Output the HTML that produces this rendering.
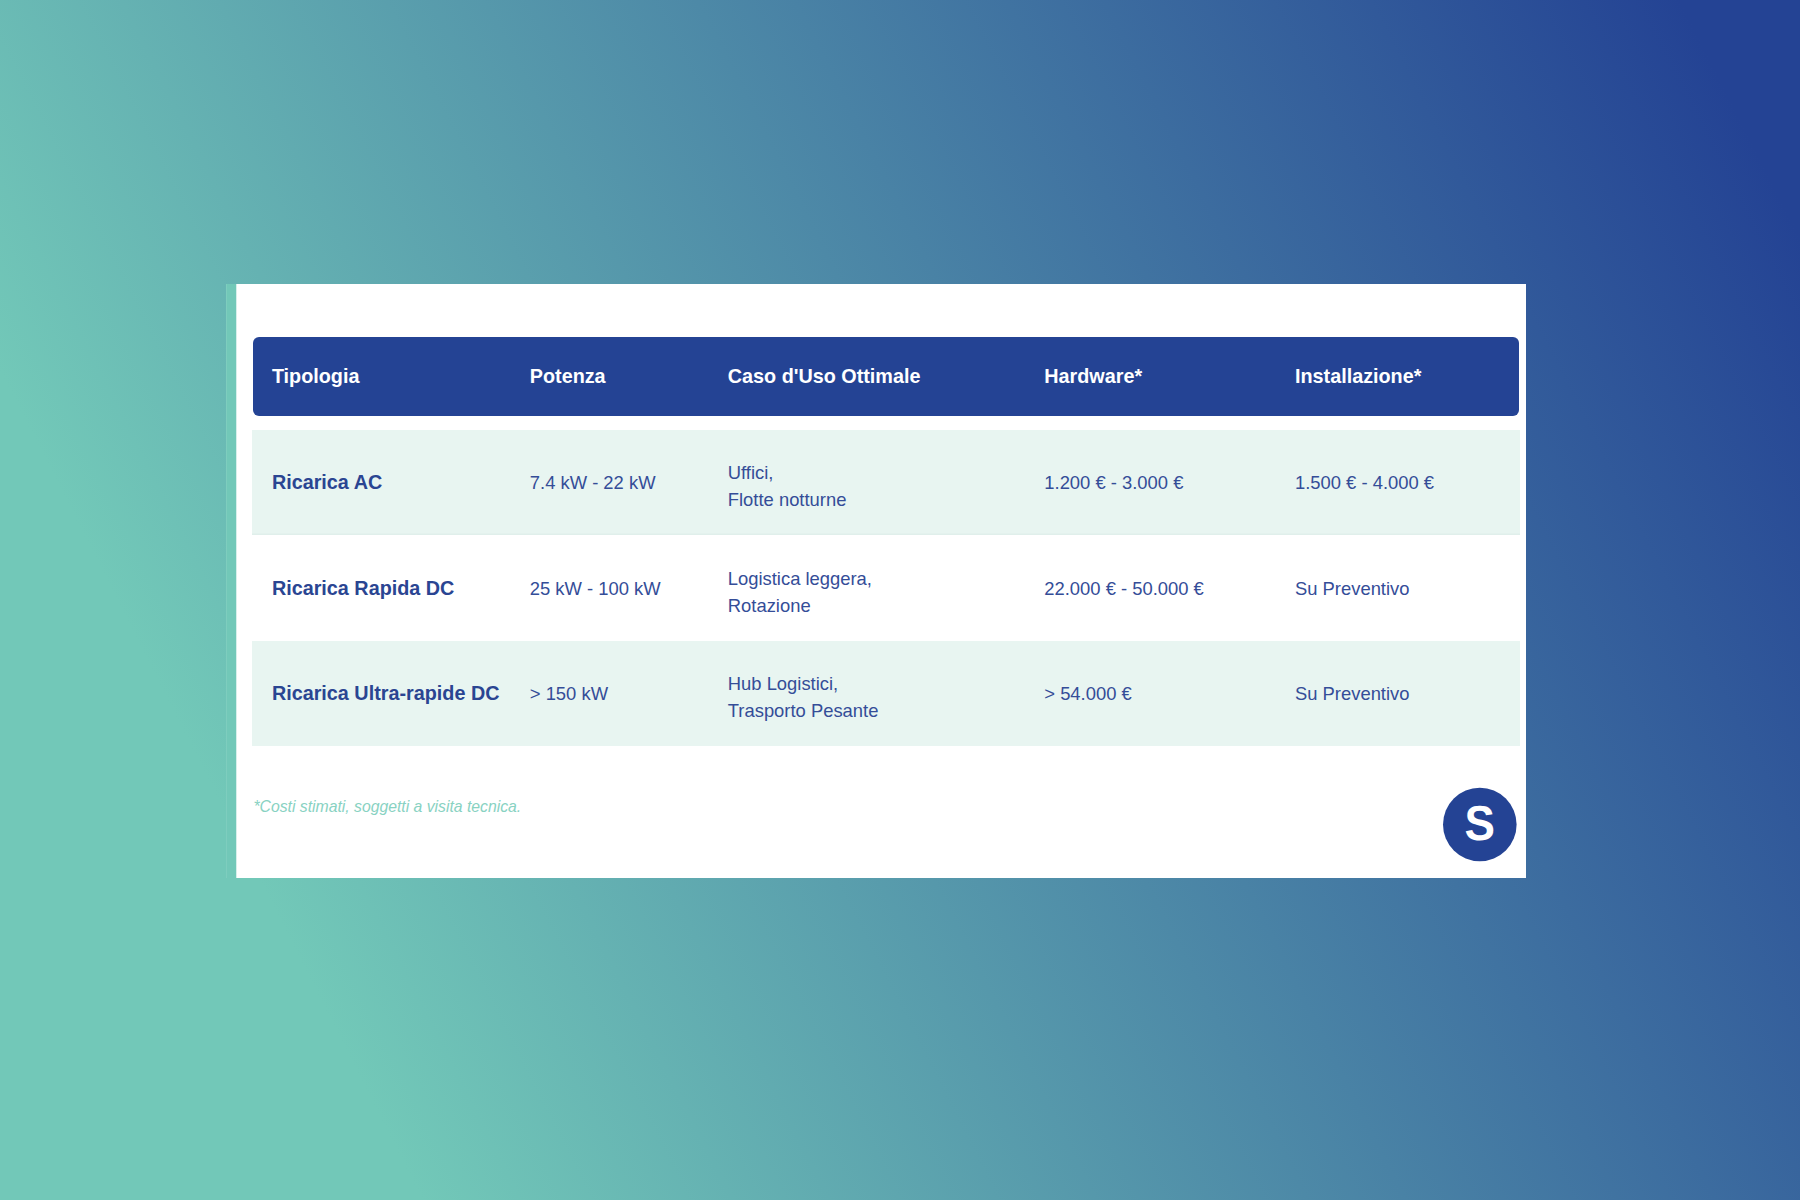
<!DOCTYPE html>
<html lang="it">
<head>
<meta charset="utf-8">
<title>Tabella Ricarica</title>
<style>
html,body{margin:0;padding:0;}
body{width:1800px;height:1200px;overflow:hidden;position:relative;
  font-family:"Liberation Sans",Arial,Helvetica,sans-serif;
  background:linear-gradient(63deg,#72c8b8 0%,#72c8b8 17.5%,#244394 95%,#244394 100%);}
.card{position:absolute;left:226px;top:284px;width:1300px;height:594px;background:linear-gradient(90deg,#8ad2c4 0,#72c8b8 1px,#72c8b8 10px,#fff 10.7px,#fff 100%);}
table,thead,tbody,tr,th,td{display:block;margin:0;padding:0;border:0;text-align:left;font-weight:normal;}
.hdr{position:absolute;left:252.7px;top:336.8px;width:1266.6px;height:78.9px;background:#244394;border-radius:6px;}
.row{position:absolute;left:252.3px;width:1267.7px;height:105.4px;}
.r1{top:429.7px;background:#e8f5f1;box-shadow:inset 0 -1.5px 0 #e0efeb;}
.r2{top:535.1px;background:#fff;}
.r3{top:640.5px;background:#e8f5f1;}
.c{position:absolute;white-space:nowrap;top:50%;transform:translateY(-50%);font-size:18.4px;line-height:27px;color:#344d98;}
.hdr .c{font-weight:bold;font-size:19.8px;color:#fff;left:0}
.c.b{font-weight:bold;font-size:19.8px;color:#2a4592;}
.c1{left:19.6px}.c2{left:277.5px}.c3{left:475.5px}.c4{left:792px}.c5{left:1042.7px}
.hdr .c1{left:19.2px}.hdr .c2{left:277.1px}.hdr .c3{left:475.1px}.hdr .c4{left:791.6px}.hdr .c5{left:1042.3px}
.row .c3{margin-top:4px}
.note{position:absolute;left:253.4px;top:796.6px;font-size:15.75px;font-style:italic;color:#88d2c2;white-space:nowrap;line-height:20px;}
.logo{position:absolute;left:1440px;top:785px;}
</style>
</head>
<body>
<div class="card"></div>
<table>
<thead>
<tr class="hdr">
  <th class="c c1">Tipologia</th>
  <th class="c c2">Potenza</th>
  <th class="c c3">Caso d'Uso Ottimale</th>
  <th class="c c4">Hardware*</th>
  <th class="c c5">Installazione*</th>
</tr>
</thead>
<tbody>
<tr class="row r1">
  <td class="c b c1">Ricarica AC</td>
  <td class="c c2">7.4 kW - 22 kW</td>
  <td class="c c3">Uffici,<br>Flotte notturne</td>
  <td class="c c4">1.200 € - 3.000 €</td>
  <td class="c c5">1.500 € - 4.000 €</td>
</tr>
<tr class="row r2">
  <td class="c b c1">Ricarica Rapida DC</td>
  <td class="c c2">25 kW - 100 kW</td>
  <td class="c c3">Logistica leggera,<br>Rotazione</td>
  <td class="c c4">22.000 € - 50.000 €</td>
  <td class="c c5">Su Preventivo</td>
</tr>
<tr class="row r3">
  <td class="c b c1">Ricarica Ultra-rapide DC</td>
  <td class="c c2">&gt; 150 kW</td>
  <td class="c c3">Hub Logistici,<br>Trasporto Pesante</td>
  <td class="c c4">&gt; 54.000 €</td>
  <td class="c c5">Su Preventivo</td>
</tr>
</tbody>
</table>
<div class="note">*Costi stimati, soggetti a visita tecnica.</div>
<svg class="logo" width="80" height="80" viewBox="0 0 80 80"><circle cx="39.8" cy="39.5" r="36.8" fill="#244394"/><text transform="translate(39.75,55.3) scale(0.932,1)" x="0" y="0" text-anchor="middle" font-family="'Liberation Sans',Arial,sans-serif" font-weight="bold" font-size="49" fill="#fff" text-rendering="geometricPrecision">S</text></svg>
</body>
</html>
